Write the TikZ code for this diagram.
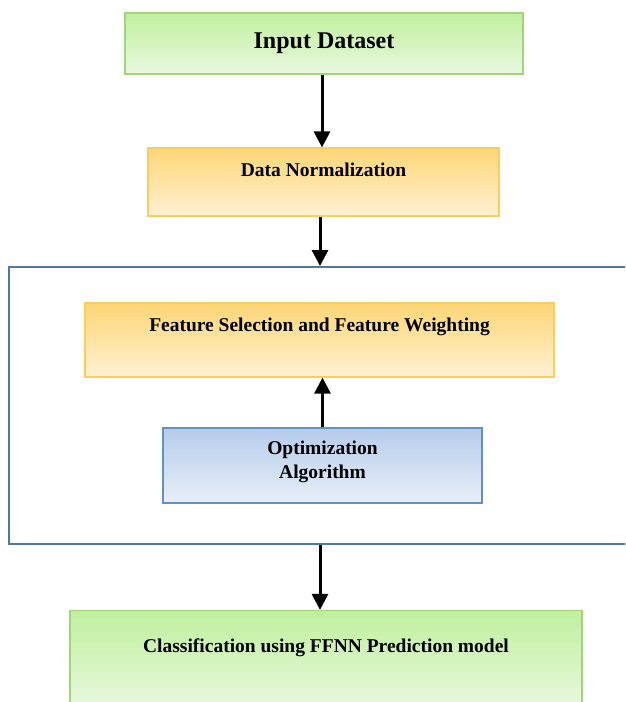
\documentclass[tikz,border=0pt]{standalone}
\usepackage{fontspec}
\setmainfont{Liberation Serif}
\usetikzlibrary{arrows.meta,calc}

\definecolor{greenTop}{RGB}{192,240,158}
\definecolor{greenBot}{RGB}{234,248,224}
\definecolor{greenLine}{RGB}{160,214,120}
\definecolor{orangeTop}{RGB}{253,214,118}
\definecolor{orangeBot}{RGB}{254,241,212}
\definecolor{orangeLine}{RGB}{249,206,92}
\definecolor{blueTop}{RGB}{182,204,235}
\definecolor{blueBot}{RGB}{232,239,249}
\definecolor{blueLine}{RGB}{96,146,200}
\definecolor{frameLine}{RGB}{80,118,170}

\tikzset{
  box/.style={rectangle, inner sep=0pt, line width=1.2pt},
  greenbox/.style={box, draw=greenLine, top color=greenTop, bottom color=greenBot},
  orangebox/.style={box, draw=orangeLine, top color=orangeTop, bottom color=orangeBot},
  bluebox/.style={box, draw=blueLine, top color=blueTop, bottom color=blueBot},
  lbl/.style={inner sep=0pt, font=\bfseries\fontsize{19.5}{23.5}\selectfont, align=center},
  arr/.style={line width=3pt, black, -{Triangle[width=16pt,length=16pt]}}
}

\begin{document}
\begin{tikzpicture}[x=1pt,y=1pt]
  % page area
  \clip (0,0) rectangle (625,-702);
  \fill[white] (0,0) rectangle (625,-702);

  % enclosing frame of the feature stage (right side runs off the page)
  \node[rectangle, draw=frameLine, line width=2pt, minimum width=631pt, minimum height=277pt, inner sep=0pt]
    (frame) at (324.5,-405.5) {};

  % process boxes
  \node[greenbox, minimum width=398pt, minimum height=61pt]  (input) at (324,-43.5) {};
  \node[orangebox, minimum width=351pt, minimum height=68pt] (norm)  at (323.5,-182) {};
  \node[orangebox, minimum width=469pt, minimum height=74pt] (feat)  at (319.5,-340) {};
  \node[bluebox, minimum width=319pt, minimum height=75pt]   (opt)   at (322.5,-465.5) {};
  \node[greenbox, minimum width=512pt, minimum height=100pt] (cls)   at (326,-660.5) {};

  % labels
  \node[lbl, font=\bfseries\fontsize{24}{28}\selectfont, anchor=base] (tinput) at (324,-48) {Input Dataset};
  \node[lbl, anchor=base] (tnorm) at (323.5,-176) {Data Normalization};
  \node[lbl, anchor=base] (tfeat) at (319.5,-331) {Feature Selection and Feature Weighting};
  \node[lbl] (topt) at (322.5,-462) {Optimization\\Algorithm};
  \node[lbl, anchor=base] (tcls) at (326,-652) {Classification using FFNN Prediction model};

  % connector end points on the frame
  \coordinate (nout) at ($(norm.south)+(-3.5,0)$);
  \coordinate (fin)  at (nout |- frame.north);
  \coordinate (fout) at ($(frame.south)+(-4.5,0)$);
  \coordinate (cin)  at (fout |- cls.north);

  % connectors
  \draw[arr] ($(input.south)+(-2,0)$) -- ($(norm.north)+(-1.5,0)$);
  \draw[arr] (nout) -- (fin);
  \draw[arr] (opt.north) -- (opt.north |- feat.south);
  \draw[arr] (fout) -- (cin);
\end{tikzpicture}
\end{document}
